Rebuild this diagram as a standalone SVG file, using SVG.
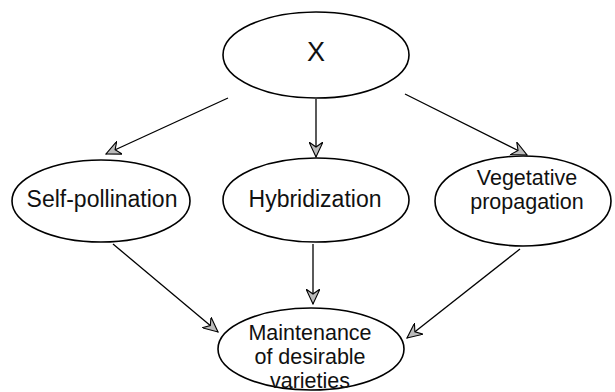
<svg xmlns="http://www.w3.org/2000/svg" width="615" height="392" viewBox="0 0 615 392">
<style>
.n{fill:#fff;stroke:#000;stroke-width:1.6}
.t{font-family:"Liberation Sans",Arial,sans-serif;font-size:23px;fill:#111;text-anchor:middle}
.m{font-size:21.5px}
.c{stroke:#000;stroke-width:1.3;fill:none}
</style>
<defs>
<marker id="a" viewBox="0 0 16 14" refX="15" refY="7" markerWidth="16" markerHeight="14" markerUnits="userSpaceOnUse" orient="auto">
<path d="M0,0 L15,7 L0,14 L5,7 Z" fill="#bbb" stroke="#000" stroke-width="1.1"/>
</marker>
</defs>
<rect width="615" height="392" fill="#fff"/>
<g id="connectors">
<line class="c" x1="228" y1="98" x2="106" y2="154" marker-end="url(#a)"/>
<line class="c" x1="316" y1="99" x2="316" y2="157" marker-end="url(#a)"/>
<line class="c" x1="405" y1="94" x2="527" y2="155" marker-end="url(#a)"/>
<line class="c" x1="113" y1="244" x2="218" y2="332" marker-end="url(#a)"/>
<line class="c" x1="313" y1="244" x2="313" y2="304" marker-end="url(#a)"/>
<line class="c" x1="520" y1="249" x2="407" y2="338" marker-end="url(#a)"/>
</g>
<g id="x">
<ellipse class="n" cx="316" cy="55" rx="93" ry="43"/>
<text class="t" x="316" y="61" style="font-size:27px;font-weight:300">X</text>
</g>
<g id="self">
<ellipse class="n" cx="101" cy="201" rx="89" ry="41"/>
<text class="t" x="102" y="207">Self-pollination</text>
</g>
<g id="hybrid">
<ellipse class="n" cx="316" cy="200" rx="93" ry="42"/>
<text class="t" x="315" y="207">Hybridization</text>
</g>
<g id="veg">
<ellipse class="n" cx="523" cy="201" rx="88" ry="45"/>
<text class="t m" x="527" y="185">Vegetative</text>
<text class="t m" x="527" y="209">propagation</text>
</g>
<g id="maint">
<ellipse class="n" cx="311" cy="349" rx="93" ry="41"/>
<text class="t m" x="310" y="340">Maintenance</text>
<text class="t m" x="310" y="364">of desirable</text>
<text class="t m" x="310" y="388">varieties</text>
</g>
</svg>
